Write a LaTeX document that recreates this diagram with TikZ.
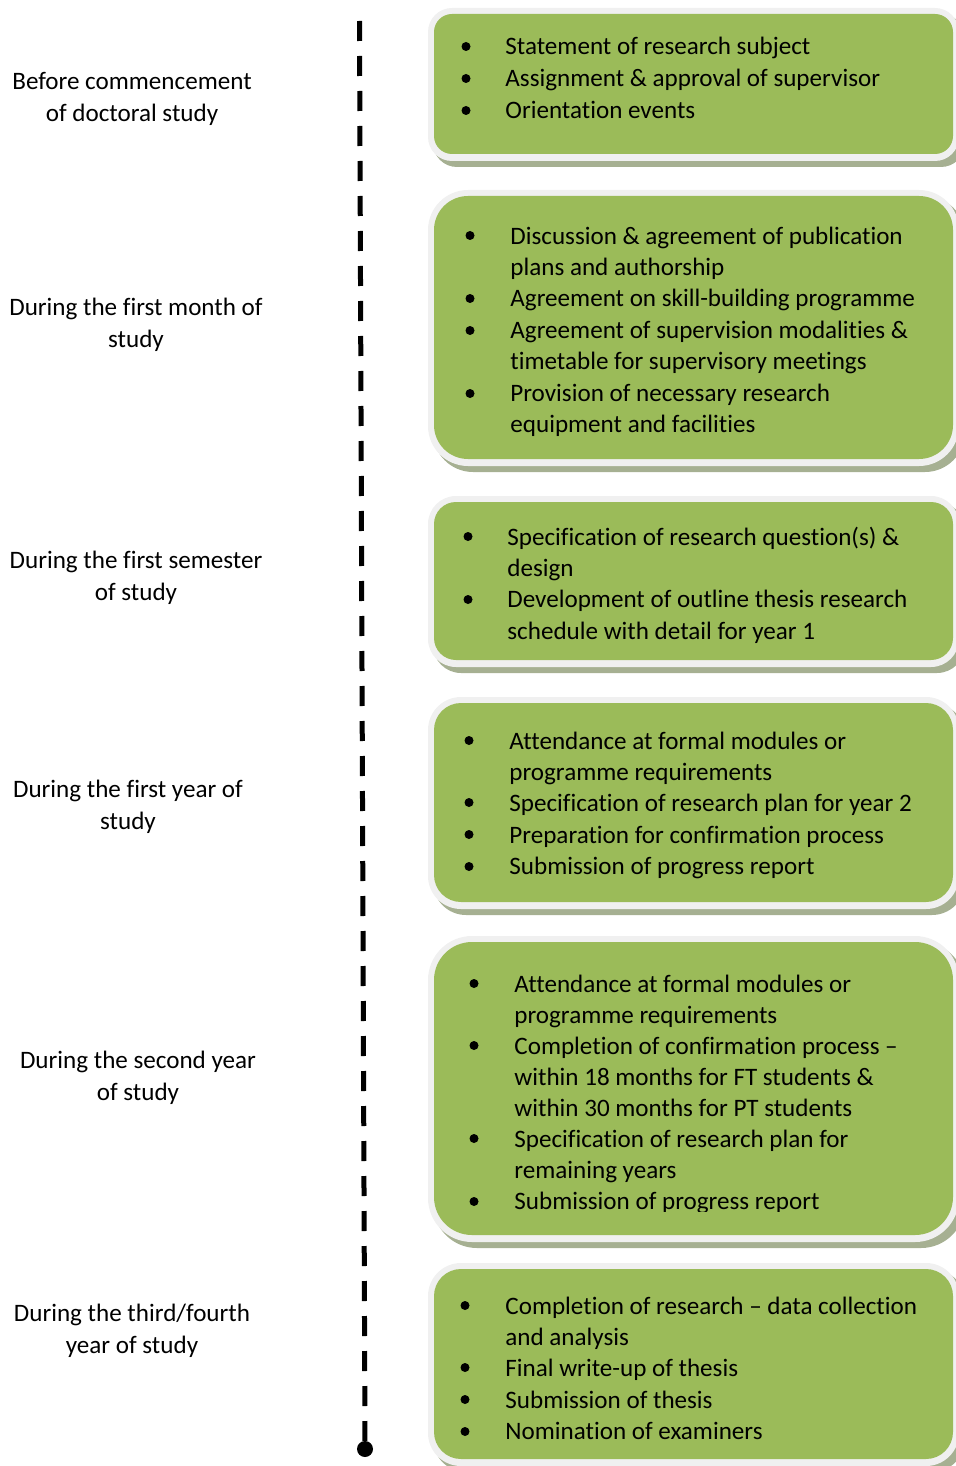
\documentclass[tikz,border=0pt]{standalone}
\usepackage{fontspec}
\setmainfont{Carlito}[Ligatures=NoCommon]
\usetikzlibrary{calc}
\definecolor{boxgreen}{RGB}{155,187,89}
\definecolor{boxrim}{RGB}{240,240,240}
\definecolor{boxshadow}{RGB}{166,176,146}
\tikzset{
	stagetext/.style={anchor=base west, inner sep=0pt, font=\fontsize{12.55}{15.7}\selectfont},
	stagelabel/.style={anchor=base, inner sep=0pt, font=\fontsize{12.55}{16}\selectfont},
	timeline/.style={line width=2.5pt, dash pattern=on 10pt off 7.5pt},
}
% (top:bottom:inner radius:outer radius)
\def\stagebox(#1:#2:#3:#4){%
	\fill[boxshadow, rounded corners=#4] (433, #1) rectangle (965, #2+13);
	\fill[boxrim, rounded corners=#4] (428, #1-6) rectangle (959, #2+7);
	\fill[boxgreen, rounded corners=#3] (434, #1) rectangle (953, #2);}
\def\bullets(#1)(#2){\foreach \y in {#2} \fill (#1, \y-8.5) circle (2.25pt);}

\begin{document}
\begin{tikzpicture}[x=0.5pt, y=-0.5pt]
			%%%%% START %%%%%
			\useasboundingbox (0, 0) rectangle (956, 1466);
			\clip (0, 0) rectangle (956, 1466);
			
			% time line
			\coordinate (tl top) at (359.5, 21);
			\node[circle, fill=black, inner sep=0pt, minimum size=8pt] (tl end) at (365, 1449) {};
			\draw[timeline] (tl top) -- (tl end.center);
			
			% left labels
			\node[stagelabel] (lbl1) at (132, 90) {\begin{tabular}[t]{@{}c@{}}Before commencement\\of doctoral study\end{tabular}};
			\node[stagelabel] (lbl2) at (136, 315) {\begin{tabular}[t]{@{}c@{}}During the first month of\\study\end{tabular}};
			\node[stagelabel] (lbl3) at (136, 568) {\begin{tabular}[t]{@{}c@{}}During the first semester\\of study\end{tabular}};
			\node[stagelabel] (lbl4) at (128, 797) {\begin{tabular}[t]{@{}c@{}}During the first year of\\study\end{tabular}};
			\node[stagelabel] (lbl5) at (138, 1068) {\begin{tabular}[t]{@{}c@{}}During the second year\\of study\end{tabular}};
			\node[stagelabel] (lbl6) at (132, 1321) {\begin{tabular}[t]{@{}c@{}}During the third/fourth\\year of study\end{tabular}};
			
			% stage 1
			\stagebox(14:154:9pt:12pt)
			\bullets(466)(55, 87, 119)
			\node[stagetext, font=\fontsize{12.55}{16}\selectfont] (stage1) at (505, 55) {\begin{tabular}[t]{@{}l@{}}Statement of research subject\\Assignment \& approval of supervisor\\Orientation events\end{tabular}};
			
			% stage 2
			\stagebox(196:459:17pt:20pt)
			\bullets(470)(244, 307, 339, 402)
			\node[stagetext] (stage2) at (510, 244) {\begin{tabular}[t]{@{}l@{}}Discussion \& agreement of publication\\plans and authorship\\Agreement on skill-building programme\\Agreement of supervision modalities \&\\timetable for supervisory meetings\\Provision of necessary research\\equipment and facilities\end{tabular}};
			
			% stage 3
			\stagebox(502:660:11pt:14pt)
			\bullets(468)(545, 608)
			\node[stagetext] (stage3) at (507, 545) {\begin{tabular}[t]{@{}l@{}}Specification of research question(s) \&\\design\\Development of outline thesis research\\schedule with detail for year 1\end{tabular}};
			
			% stage 4
			\stagebox(703:902:13.5pt:16.5pt)
			\bullets(469)(749, 811, 843, 875)
			\node[stagetext] (stage4) at (509, 749) {\begin{tabular}[t]{@{}l@{}}Attendance at formal modules or\\programme requirements\\Specification of research plan for year 2\\Preparation for confirmation process\\Submission of progress report\end{tabular}};
			
			% stage 5
			\stagebox(942:1235:19pt:22pt)
			\bullets(474)(992, 1054, 1147, 1210)
			\begin{scope}
				\clip (430, 930) rectangle (956, 1211);
				\node[stagetext, font=\fontsize{12.55}{15.55}\selectfont] (stage5) at (514, 992) {\begin{tabular}[t]{@{}l@{}}Attendance at formal modules or\\programme requirements\\Completion of confirmation process –\\within 18 months for FT students \&\\within 30 months for PT students\\Specification of research plan for\\remaining years\\Submission of progress report\end{tabular}};
			\end{scope}
			
			% stage 6
			\stagebox(1269:1459:13.5pt:16.5pt)
			\bullets(465)(1314, 1376, 1408, 1440)
			\node[stagetext] (stage6) at (505, 1314) {\begin{tabular}[t]{@{}l@{}}Completion of research – data collection\\and analysis\\Final write-up of thesis\\Submission of thesis\\Nomination of examiners\end{tabular}};
			
			%%%%% END %%%%%
\end{tikzpicture}
\end{document}
